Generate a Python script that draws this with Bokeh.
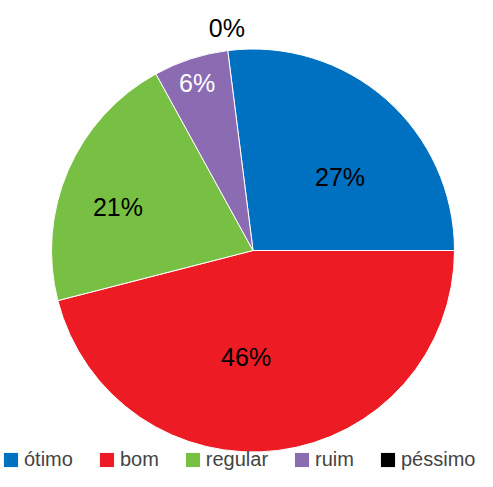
import math
from bokeh.plotting import figure
from bokeh.models import Range1d, ColumnDataSource, Legend, LegendItem
from bokeh.core.properties import value
from bokeh.embed import file_html
from bokeh.resources import INLINE

categories = ["ótimo", "bom", "regular", "ruim", "péssimo"]
values = [27, 46, 21, 6, 0]
colors = ["#0070C0", "#ED1C24", "#77C043", "#8B6BB1", "#000000"]
label_colors = ["#000000", "#000000", "#000000", "#FFFFFF", "#000000"]

# label placement style (angle nudge in degrees, radius in px)
label_nudge = [-8.6, -10.9, 5.4, 0.4, -0.5]
label_radius = [113.6, 107, 142, 177, 224]

W, H = 477, 471
cx, cy = 252.5, H - 250.0
R = 201.5

total = float(sum(values))
offset = values[0] / total * 2 * math.pi
starts, ends, mids = [], [], []
cum = 0.0
for v in values:
    a0 = offset - cum / total * 2 * math.pi
    cum += v
    a1 = offset - cum / total * 2 * math.pi
    starts.append(a0)
    ends.append(a1)
    mids.append((a0 + a1) / 2)

p = figure(width=W, height=H, output_backend="svg", toolbar_location=None,
           x_range=Range1d(0, W), y_range=Range1d(0, H), min_border=0)
p.axis.visible = False
p.grid.visible = False
p.outline_line_color = None
p.background_fill_color = "white"

renderers = []
for i, v in enumerate(values):
    r = p.wedge(x=cx, y=cy, radius=(R if v > 0 else 0), radius_units="screen",
                start_angle=starts[i], end_angle=ends[i], direction="clock",
                fill_color=colors[i], line_color="white", line_width=1)
    renderers.append(r)

lx, ly, lt, lc = [], [], [], []
for i, v in enumerate(values):
    a = mids[i] + math.radians(label_nudge[i])
    lx.append(cx + label_radius[i] * math.cos(a))
    ly.append(cy + label_radius[i] * math.sin(a))
    lt.append(f"{v}%")
    lc.append(label_colors[i])
p.text(x=lx, y=ly, text=lt, text_color=lc, text_align="center",
       text_baseline="middle", text_font=value("Liberation Sans"),
       text_font_size="25px")

legend = Legend(items=[LegendItem(label=categories[i], renderers=[renderers[i]])
                       for i in range(len(values))],
                orientation="horizontal", location=(1, 0),
                glyph_width=19, glyph_height=19, label_standoff=4, spacing=24,
                padding=0, margin=0, border_line_color=None,
                background_fill_alpha=0,
                label_text_font="Liberation Sans", label_text_font_size="20px",
                label_height=20, label_text_baseline="middle")
p.add_layout(legend)

open("out.html", "w").write(file_html(p, INLINE))
